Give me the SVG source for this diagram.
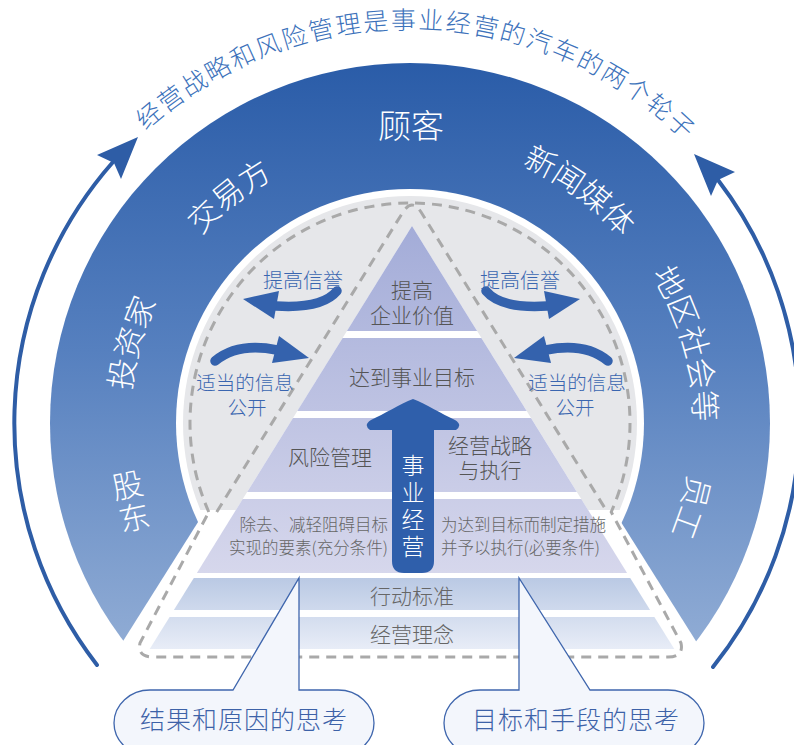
<svg xmlns="http://www.w3.org/2000/svg" width="794" height="745" viewBox="0 0 794 745">
<defs>
<style>
text{font-family:"Noto Sans CJK SC","Noto Sans",sans-serif;font-weight:300;dominant-baseline:central;text-anchor:middle}
.ring{fill:#fff;font-size:31px;letter-spacing:1.5px}
.title{fill:#3c72bb;font-size:25px;letter-spacing:2.8px;text-anchor:start}
.tier{fill:#555;font-size:21px}
.small{fill:#666;font-size:16.5px}
.lbl{fill:#3a66b0;font-size:20px}
.bub{fill:#3d62a8;font-size:25px;letter-spacing:1px}
.dash{fill:none;stroke:#a9a9a9;stroke-width:3;stroke-dasharray:10 7}
.bigarc{fill:none;stroke:#2e5da6;stroke-width:4;stroke-linecap:round}
.head{fill:#2e5da6}
.sarc{fill:none;stroke:#3462ad;stroke-width:9.5;stroke-linecap:round}
.shead{fill:#3462ad}
.bubble{fill:#f3f6fc;stroke:#3f66ad;stroke-width:1.3}
</style>
<linearGradient id="ringGrad" gradientUnits="userSpaceOnUse" x1="0" y1="62" x2="0" y2="640">
<stop offset="0" stop-color="#2a5ca8"/>
<stop offset="0.5" stop-color="#5680bf"/>
<stop offset="1" stop-color="#8fabd4"/>
</linearGradient>
<linearGradient id="pyrGrad" gradientUnits="userSpaceOnUse" x1="0" y1="226" x2="0" y2="573">
<stop offset="0" stop-color="#a3acd8"/>
<stop offset="1" stop-color="#d6d7ec"/>
</linearGradient>
<linearGradient id="baseGrad" gradientUnits="userSpaceOnUse" x1="0" y1="578" x2="0" y2="649">
<stop offset="0" stop-color="#bac9e4"/>
<stop offset="1" stop-color="#e8edf7"/>
</linearGradient>
<mask id="ringMask">
<rect width="794" height="745" fill="#fff"/>
<circle cx="410" cy="423" r="234" fill="#000"/>
<polygon points="262.3,420 556.7,420 761.4,745 57.6,745" fill="#000"/>
</mask>
<clipPath id="grayClip"><rect x="0" y="0" width="794" height="510"/></clipPath>
<path id="titlePath" d="M83.2,183.8 A405,405 0 0 1 746.6,197.8"/>
<path id="ringPath" d="M410,718 A295,295 0 0 1 410,128 A295,295 0 0 1 410,718"/>
</defs>
<rect width="794" height="745" fill="#fff"/>

<g id="ring">
<circle cx="410" cy="423" r="360" fill="url(#ringGrad)" mask="url(#ringMask)"/>
</g>
<g id="inner-circle">
<circle cx="410" cy="423" r="227" fill="#e6e7ea" clip-path="url(#grayClip)"/>
</g>

<g id="title">
<text class="title"><textPath href="#titlePath" startOffset="82.96">经营战略和风险</textPath></text>
<text class="title"><textPath href="#titlePath" startOffset="277.56">管理是事业经营的</textPath></text>
<text class="title"><textPath href="#titlePath" startOffset="499.96">汽车的两</textPath></text>
<text class="title"><textPath href="#titlePath" startOffset="611.16">个轮子</textPath></text>
</g>

<g id="ring-labels">
<g id="label-guke"><text class="ring" x="411" y="124" style="font-size:33px;letter-spacing:0">顾客</text></g>
<g id="label-jiaoyifang"><text class="ring"><textPath href="#ringPath" startOffset="728.5">交易方</textPath></text></g>
<g id="label-xinwenmeiti"><text class="ring"><textPath href="#ringPath" startOffset="1112.6">新闻媒体</textPath></text></g>
<g id="label-touzijia"><text class="ring"><textPath href="#ringPath" startOffset="546.3">投资家</textPath></text></g>
<g id="label-diqushehui"><text class="ring" dy="-3"><textPath href="#ringPath" startOffset="1307.8">地区社会等</textPath></text></g>
<g id="label-yuangong"><text class="ring" dy="-2"><textPath href="#ringPath" startOffset="1476.1">员工</textPath></text></g>
<g id="label-gudong"><text class="ring" transform="translate(131,502) rotate(-12)" style="writing-mode:vertical-rl;letter-spacing:2px">股东</text></g>
</g>

<g id="pyramid">
<polygon points="412,226 627.1,573 196.9,573" fill="#fff"/>
<g id="tier1"><polygon points="412,226 477.1,331 346.9,331" fill="url(#pyrGrad)"/>
<text class="tier" x="412" y="289"><tspan x="412">提高</tspan><tspan x="412" dy="25">企业价值</tspan></text></g>
<g id="tier2"><polygon points="342.6,338 481.4,338 526.7,411 297.3,411" fill="url(#pyrGrad)"/>
<text class="tier" x="412" y="376">达到事业目标</text></g>
<g id="tier3"><polygon points="293,418 531,418 576.9,492 247.1,492" fill="url(#pyrGrad)"/>
<text class="tier" x="330" y="456">风险管理</text>
<text class="tier" x="490" y="444"><tspan x="490">经营战略</tspan><tspan x="490" dy="25">与执行</tspan></text></g>
<g id="tier4"><polygon points="242.7,499 581.3,499 627.1,573 196.9,573" fill="url(#pyrGrad)"/>
<text class="small" x="388" y="524" style="text-anchor:end">除去、减轻阻碍目标</text>
<text class="small" x="388" y="547" style="text-anchor:end">实现的要素(充分条件)</text>
<text class="small" x="441" y="524" style="text-anchor:start">为达到目标而制定措施</text>
<text class="small" x="441" y="547" style="text-anchor:start">并予以执行(必要条件)</text></g>
<g id="tier5"><polygon points="193.8,578 630.2,578 650.1,610 173.9,610" fill="url(#baseGrad)"/>
<text class="tier" x="412" y="595" style="fill:#666">行动标准</text></g>
<g id="tier6"><polygon points="169.6,617 654.4,617 674.3,649 149.7,649" fill="url(#baseGrad)"/>
<text class="tier" x="412" y="633" style="fill:#666">经营理念</text></g>
</g>

<g id="outline">
<path class="dash" d="M208.8,512 A220,220 0 1 1 611.2,512 L681,643 Q684,657 668,657 L153,657 Q137,657 140,643 Z"/>
<path class="dash" d="M216.7,512 L403,212 Q412,198 421,212 L607.3,512"/>
</g>

<g id="core-arrow">
<path fill="#2f5fab" d="M413,399 C426,404 442,414 455,420 Q463,425 456,430 L434,430 L434,561 Q434,573 422,573 L404,573 Q392,573 392,561 L392,430 L370,430 Q363,425 371,420 C384,414 400,404 413,399 Z"/>
<text x="413" y="508" style="fill:#fff;font-size:23px;writing-mode:vertical-rl;letter-spacing:4px">事业经营</text>
</g>

<g id="connectors">
<path class="bigarc" d="M97,665 A395,395 0 0 1 113,162"/>
<polygon class="head" points="138,137 121,179 114,163 97,155"/>
<path class="bigarc" d="M713,667 A395,395 0 0 0 718,180"/>
<polygon class="head" points="694,154 735,172 718,180 711,196"/>
<path class="sarc" d="M337,291 Q322,309 276,306"/>
<polygon class="shead" points="243,299 279,291 274,319"/>
<path class="sarc" d="M486,291 Q501,309 547,306"/>
<polygon class="shead" points="580,299 544,291 549,319"/>
<path class="sarc" d="M215,361 Q238,342 277,350"/>
<polygon class="shead" points="309,358 279,336 272,363"/>
<path class="sarc" d="M608,361 Q585,342 546,350"/>
<polygon class="shead" points="514,358 544,336 551,363"/>
</g>

<g id="arrow-labels">
<text class="lbl" x="303" y="279">提高信誉</text>
<text class="lbl" x="520" y="279">提高信誉</text>
<text class="lbl" x="245" y="381" style="font-size:19.5px"><tspan x="245">适当的信息</tspan><tspan x="247" dy="25">公开</tspan></text>
<text class="lbl" x="577" y="381" style="font-size:19.5px"><tspan x="577">适当的信息</tspan><tspan x="575" dy="25">公开</tspan></text>
</g>

<g id="bubble-left">
<path class="bubble" d="M150,690 L233,690 L299,578 L299,690 L338,690 A36,33 0 0 1 374,723 A36,33 0 0 1 338,756 L150,756 A36,33 0 0 1 114,723 A36,33 0 0 1 150,690 Z"/>
<text class="bub" x="244" y="718">结果和原因的思考</text>
</g>
<g id="bubble-right">
<path class="bubble" d="M480,690 L519,690 L519,578 L590,690 L668,690 A36,33 0 0 1 704,723 A36,33 0 0 1 668,756 L480,756 A36,33 0 0 1 444,723 A36,33 0 0 1 480,690 Z"/>
<text class="bub" x="576" y="718">目标和手段的思考</text>
</g>
</svg>
